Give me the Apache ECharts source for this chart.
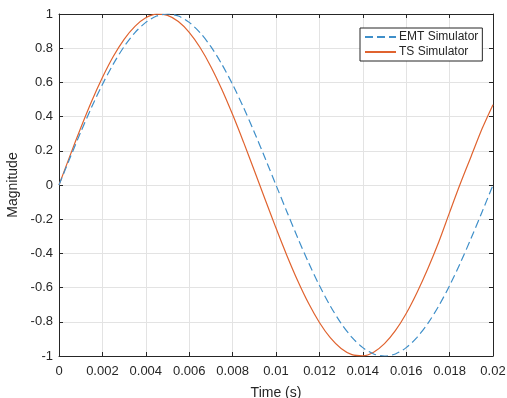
<!DOCTYPE html>
<html>
<head>
<meta charset="utf-8">
<script src="https://cdn.jsdelivr.net/npm/echarts@6/dist/echarts.min.js"></script>
<style>
  html, body { margin: 0; padding: 0; background: #fff; }
  #chart { width: 507px; height: 398px; }
</style>
</head>
<body>
<div id="chart"></div>
<script>
// time samples (s)
const time = [
  0, 0.0005, 0.001, 0.0015, 0.002, 0.0025, 0.003, 0.0035, 0.004, 0.0045,
  0.005, 0.0055, 0.006, 0.0065, 0.007, 0.0075, 0.008, 0.0085, 0.009, 0.0095,
  0.01, 0.0105, 0.011, 0.0115, 0.012, 0.0125, 0.013, 0.0135, 0.014, 0.0145,
  0.015, 0.0155, 0.016, 0.0165, 0.017, 0.0175, 0.018, 0.0185, 0.019, 0.0195,
  0.02
];
// values
const emtValues = [
  0, 0.156, 0.309, 0.454, 0.588, 0.707, 0.809, 0.891, 0.951, 0.988,
  1.0, 0.988, 0.951, 0.891, 0.809, 0.707, 0.588, 0.454, 0.309, 0.156,
  0, -0.156, -0.309, -0.454, -0.588, -0.707, -0.809, -0.891, -0.951, -0.988,
  -1.0, -0.988, -0.951, -0.891, -0.809, -0.707, -0.588, -0.454, -0.309, -0.156,
  0
];
const tsValues = [
  0, 0.169, 0.333, 0.488, 0.628, 0.751, 0.852, 0.928, 0.978, 0.999,
  0.992, 0.956, 0.893, 0.804, 0.692, 0.560, 0.412, 0.252, 0.085, -0.085,
  -0.252, -0.412, -0.560, -0.692, -0.804, -0.893, -0.956, -0.992, -0.999, -0.978,
  -0.928, -0.852, -0.751, -0.628, -0.488, -0.333, -0.16, 0.01, 0.17, 0.33,
  0.47
];
const seriesNames = ['EMT Simulator', 'TS Simulator'];
const xTickLabels = ['0', '0.002', '0.004', '0.006', '0.008', '0.01', '0.012', '0.014', '0.016', '0.018', '0.02'];
const yTickLabels = ['-1', '-0.8', '-0.6', '-0.4', '-0.2', '0', '0.2', '0.4', '0.6', '0.8', '1'];

const axisColor = '#262626';
const font = 'Liberation Sans, Arial, sans-serif';

const chart = echarts.init(document.getElementById('chart'));

// box axes (top/right) only draw the frame and inner ticks
const frameAxis = {
  axisLine: { show: true, onZero: false, lineStyle: { color: axisColor, width: 1 } },
  axisTick: { show: true, inside: true, length: 4, lineStyle: { color: axisColor } },
  axisLabel: { show: false },
  splitLine: { show: false },
};

chart.setOption({
  animation: false,
  backgroundColor: '#fff',
  grid: { left: 59, top: 14, right: 14, bottom: 42, containLabel: false, outerBoundsMode: 'none' },
  legend: {
    left: 360,
    top: 28,
    orient: 'vertical',
    backgroundColor: '#fff',
    borderColor: axisColor,
    borderWidth: 1,
    borderRadius: 0,
    padding: [3, 4, 3, 4],
    itemGap: 3,
    itemWidth: 31,
    itemHeight: 10,
    itemStyle: { opacity: 0 },
    textStyle: { fontFamily: font, fontSize: 12, color: axisColor, padding: [0, 0, 0, -2] },
    data: seriesNames,
  },
  xAxis: [
    {
      type: 'value',
      min: 0,
      max: 0.02,
      interval: 0.002,
      name: 'Time (s)',
      nameLocation: 'middle',
      nameGap: 30,
      nameTextStyle: { fontFamily: font, fontSize: 14, color: axisColor },
      axisLine: { show: true, onZero: false, lineStyle: { color: axisColor, width: 1 } },
      axisTick: { show: true, inside: true, length: 4, lineStyle: { color: axisColor } },
      axisLabel: {
        fontFamily: font, fontSize: 13, color: axisColor, margin: 9,
        formatter: (v) => xTickLabels[Math.round(v / 0.002)],
      },
      splitLine: { show: true, lineStyle: { color: '#e3e3e3', width: 1 } },
    },
    { type: 'value', position: 'top', min: 0, max: 0.02, interval: 0.002, ...frameAxis },
  ],
  yAxis: [
    {
      type: 'value',
      min: -1,
      max: 1,
      interval: 0.2,
      name: 'Magnitude',
      nameLocation: 'middle',
      nameGap: 39,
      nameTextStyle: { fontFamily: font, fontSize: 14, color: axisColor },
      axisLine: { show: true, onZero: false, lineStyle: { color: axisColor, width: 1 } },
      axisTick: { show: true, inside: true, length: 4, lineStyle: { color: axisColor } },
      axisLabel: {
        fontFamily: font, fontSize: 13, color: axisColor, margin: 6,
        formatter: (v) => yTickLabels[Math.round((v + 1) / 0.2)],
      },
      splitLine: { show: true, lineStyle: { color: '#e3e3e3', width: 1 } },
    },
    { type: 'value', position: 'right', min: -1, max: 1, interval: 0.2, ...frameAxis },
  ],
  series: [
    {
      name: seriesNames[0],
      type: 'line',
      smooth: 0.3,
      showSymbol: false,
      symbol: 'none',
      lineStyle: { color: '#3f8fc9', width: 1.2, type: [8, 4] },
      itemStyle: { color: '#3f8fc9' },
      data: time.map((t, i) => [t, emtValues[i]]),
      z: 3,
    },
    {
      name: seriesNames[1],
      type: 'line',
      smooth: 0.3,
      showSymbol: false,
      symbol: 'none',
      lineStyle: { color: '#e0632f', width: 1.2 },
      itemStyle: { color: '#e0632f' },
      data: time.map((t, i) => [t, tsValues[i]]),
      z: 2,
    },
  ],
});
</script>
</body>
</html>
